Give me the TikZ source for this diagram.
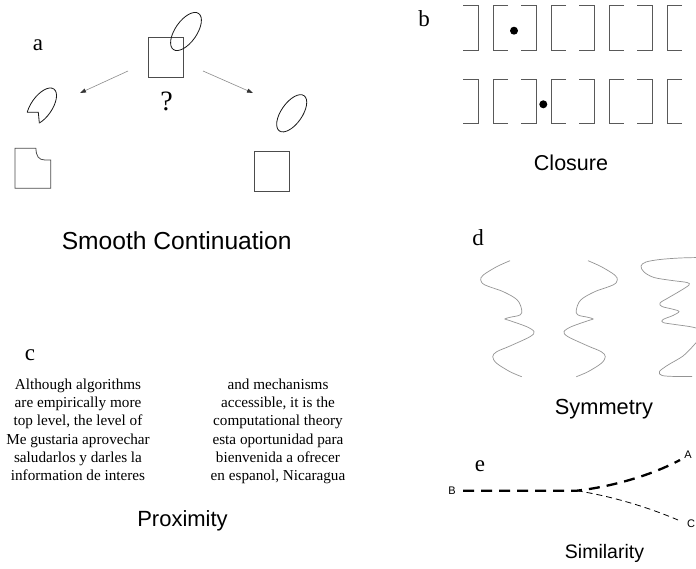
\documentclass[tikz,border=0pt]{standalone}
\usepackage{fontspec}
\setmainfont{Liberation Serif}
\newfontfamily\arialfont{Liberation Sans}
\usetikzlibrary{arrows.meta}
\newcommand\symwave{plot[smooth, tension=0.55] coordinates {(510,260.7) (496.7,266.7) (483.3,275) (480.7,280) (485,285) (503.3,291.7) (517.3,300) (521.7,310) (520,315) (510,317.3) (505,319) (510,320.7) (526.7,326.7) (534,331.7) (530,336.7) (510,346) (496.7,351.7) (492.7,356.7) (496.7,363.3) (510,371.7) (521.7,376.7)}}
\begin{document}
\begin{tikzpicture}[x=1pt,y=-1pt,
  panellabel/.style={font=\fontsize{23}{27}\selectfont, inner sep=0pt},
  title/.style={font=\arialfont\fontsize{#1}{#1}\selectfont, anchor=base, inner sep=0pt},
  title/.default=22,
  coltext/.style={font=\fontsize{15.2}{18.2}\selectfont, align=center, anchor=north, inner sep=0pt},
  sqr/.style={draw=black!70, line width=0.8pt},
  ell/.style={draw=black!90, line width=0.8pt},
  arr/.style={draw=black!45, line width=0.6pt, -{Triangle[length=6pt,width=4pt,color=black!80]}},
  brk/.style={draw=black!65, line width=0.9pt},
  wave/.style={draw=black!42, line width=0.7pt},
  thickdash/.style={draw=black, line width=2.3pt, dash pattern=on 11pt off 7pt},
  thindash/.style={draw=black, line width=0.8pt, dash pattern=on 6pt off 4pt},
  ptlabel/.style={font=\arialfont\fontsize{11}{11}\selectfont, inner sep=0pt}
]
\useasboundingbox[fill=white] (0,0) rectangle (696,569);

% ---------------- panel a ----------------
\node[panellabel] (la) at (38,45) {a};
\draw[sqr] (148.3,37.7) rectangle (183.3,77.3);
\draw[ell, rotate around={55:(186,31.5)}] (186,31.5) ellipse [x radius=22pt, y radius=10.8pt];
\node[font=\fontsize{28}{30}\selectfont, inner sep=0pt] (qm) at (166.7,101.7) {?};
\coordinate (al0) at (128,71); \coordinate (al1) at (80,93);
\coordinate (ar0) at (203,71); \coordinate (ar1) at (253,93);
\draw[arr] (al0) -- (al1);
\draw[arr] (ar0) -- (ar1);
% right ellipse and square
\draw[ell, rotate around={55:(291.7,113.3)}] (291.7,113.3) ellipse [x radius=21.5pt, y radius=10.5pt];
\draw[sqr] (254.3,151) rectangle (289.3,191);
% left pacman ellipse
\coordinate (pv) at (38.3,112.3);
\begin{scope}
  \clip (pv) -- (0,112.3) -- (0,70) -- (80,70) -- (80,145) -- (41.3,143.5) -- cycle;
  \draw[ell, rotate around={55:(41.5,106.6)}] (41.5,106.6) ellipse [x radius=21.5pt, y radius=10.5pt];
\end{scope}
\begin{scope}
  \clip[rotate around={55:(41.5,106.6)}] (41.5,106.6) ellipse [x radius=21.5pt, y radius=10.5pt];
  \draw[ell] (0,112.3) -- (pv) -- (41.3,143.5);
\end{scope}
% left bitten square
\draw[sqr] (36,148.3) -- (15,148.3) -- (15,188.3) -- (50.7,188.3) -- (50.7,160) -- (45,160)
  .. controls (38.5,160) and (36,156) .. (36,148.3);

\node[title=24.6] (smooth) at (176.7,250) {Smooth Continuation};

% ---------------- panel b ----------------
\node[panellabel] (lb) at (424,18.5) {b};
\foreach \yt/\yb in {5/50, 79.3/123.3} {
  \foreach \xr in {478,536,594,652} {
    \draw[brk] (\xr-15,\yt) -- (\xr,\yt) -- (\xr,\yb) -- (\xr-15,\yb);
  }
  \foreach \xl in {493,551,609,667} {
    \draw[brk] (\xl+15,\yt) -- (\xl,\yt) -- (\xl,\yb) -- (\xl+15,\yb);
  }
}
\fill (514,30.7) circle (4pt);
\fill (543.3,104.3) circle (4pt);
\node[title=21.5] (closure) at (571,171) {Closure};

% ---------------- panel c ----------------
\node[panellabel] (lc) at (30,355) {c};
\node[coltext] (col1) at (78,378.8) {Although algorithms\\are empirically more\\top level, the level of\\Me gustaria aprovechar\\saludarlos y darles la\\information de interes};
\node[coltext] (col2) at (278,378.8) {and mechanisms\\accessible, it is the\\computational theory\\esta oportunidad para\\bienvenida a ofrecer\\en espanol, Nicaragua};
\node[title=22] (prox) at (182.5,526) {Proximity};

% ---------------- panel d ----------------
\node[panellabel] (ld) at (478,237.5) {d};
\draw[wave] \symwave;
\begin{scope}[xshift=1098pt, xscale=-1]
  \draw[wave] \symwave;
\end{scope}
\draw[wave] plot[smooth, tension=0.55] coordinates {(700,257.5) (680,258) (660,259.5) (646,262) (641,266) (644,272) (654,277.5) (672,280.5) (687,282.5) (689,285) (680,291) (668,298) (660,303) (662,306.5) (672,309) (679,311.5) (673,315.5) (663,319.5) (663,322.5) (675,324.5) (692,327) (700,330) (701,336) (694,345) (683,356) (668,365) (659.5,371.5) (662,375.5) (676,376.5) (692,376.5)};
\node[title=21.8] (sym) at (604,414) {Symmetry};

% ---------------- panel e ----------------
\node[panellabel] (le) at (480,466) {e};
\node[ptlabel] (B) at (452,491) {B};
\node[ptlabel] (A) at (688,455) {A};
\node[ptlabel] (C) at (691,524) {C};
\coordinate (b0) at (463,490.7);
\coordinate (fork) at (576.7,490.7);
\coordinate (aend) at (680,460);
\coordinate (cend) at (678,520);
\draw[thickdash] (b0) -- (fork) .. controls (610,487) and (650,476) .. (aend);
\draw[thindash] (fork) .. controls (610,496) and (645,506) .. (cend);
\node[title=19.5] (simil) at (604.5,558) {Similarity};
\end{tikzpicture}
\end{document}
